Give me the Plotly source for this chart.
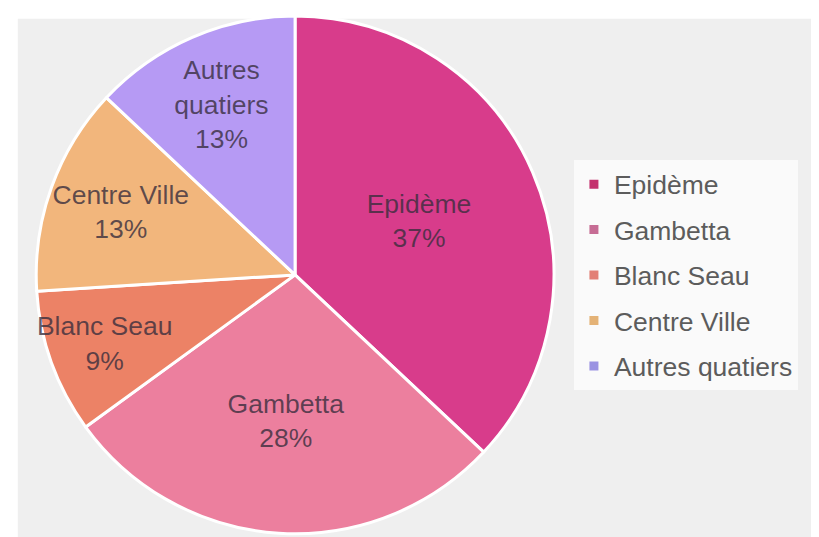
import plotly.graph_objects as go

categories = ["Epidème", "Gambetta", "Blanc Seau", "Centre Ville", "Autres quatiers"]
inside_labels = ["Epidème", "Gambetta", "Blanc Seau", "Centre Ville", "Autres<br>quatiers"]
values = [37, 28, 9, 13, 13]
colors = ["#d83c8b", "#ec7f9e", "#ec8266", "#f2b67c", "#b69af4"]
legend_colors = ["#c4326e", "#c66c94", "#e28076", "#e4b276", "#9a92e2"]

FONT = "Liberation Sans, Arial, sans-serif"

fig = go.Figure()
fig.add_trace(go.Pie(
    labels=categories,
    values=values,
    text=inside_labels,
    texttemplate="%{text}<br>%{percent:.0%}",
    textposition="inside",
    insidetextorientation="horizontal",
    textfont=dict(family=FONT, size=26.5, color="rgba(55,45,60,0.78)"),
    marker=dict(colors=colors, line=dict(color="white", width=3)),
    sort=False,
    direction="clockwise",
    rotation=0,
    domain=dict(x=[0.034, 0.667], y=[0.021, 0.985]),
    hoverinfo="skip",
    showlegend=False,
))

# legend entries (one per category, separate groups for spacing)
for name, col in zip(categories, legend_colors):
    fig.add_trace(go.Scatter(
        x=[None], y=[None], mode="markers", name=name,
        marker=dict(symbol="square", size=9, color=col),
        legendgroup=name, showlegend=True, hoverinfo="skip",
    ))

fig.update_layout(
    width=819, height=537,
    margin=dict(l=0, r=0, t=0, b=0),
    paper_bgcolor="white",
    plot_bgcolor="rgba(0,0,0,0)",
    uniformtext=dict(minsize=26, mode="show"),
    xaxis=dict(visible=False, domain=[0, 1]),
    yaxis=dict(visible=False, domain=[0, 1]),
    shapes=[dict(type="rect", xref="paper", yref="paper", x0=0.012, x1=0.99, y0=0.013, y1=0.98,
                 fillcolor="#efefef", line=dict(width=0), layer="below")],
    legend=dict(
        x=0.691, y=0.502, xanchor="left", yanchor="middle",
        bgcolor="#fafafa",
        font=dict(family=FONT, size=26.5, color="#5c5c5c"),
        tracegroupgap=8,
        traceorder="grouped",
        itemwidth=30,
    ),
)

fig.write_html("out.html")
